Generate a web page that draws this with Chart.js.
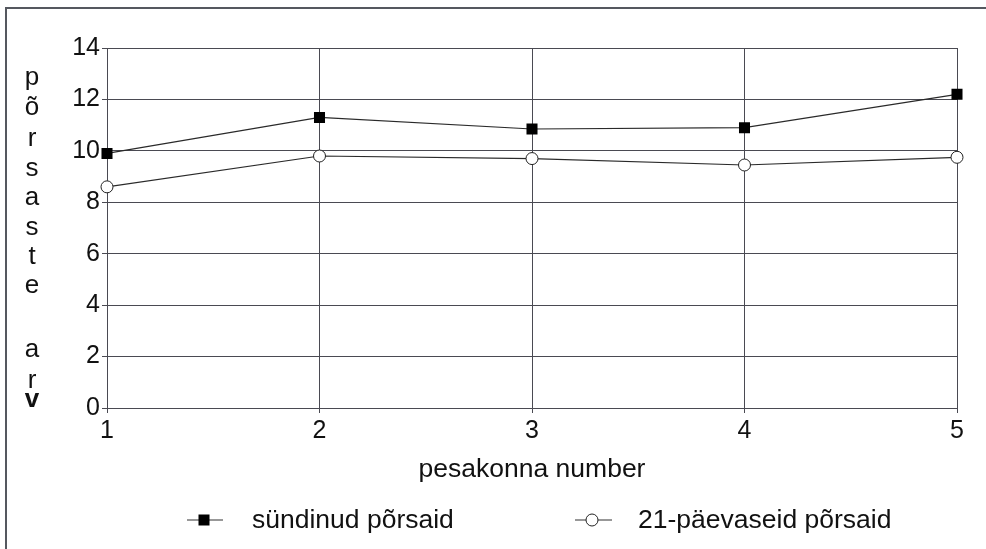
<!DOCTYPE html>
<html>
<head>
<meta charset="utf-8">
<script src="https://cdn.jsdelivr.net/npm/chart.js@4"></script>
<style>
  html, body { margin: 0; padding: 0; background: #fff; }
  #wrap { width: 986px; height: 549px; }
</style>
</head>
<body>
<div id="wrap"><canvas id="pigs" width="986" height="549"></canvas></div>
<script>
const litters = ["1", "2", "3", "4", "5"];
const bornPiglets = [9.9, 11.3, 10.85, 10.9, 12.2];
const weanedPiglets = [8.6, 9.8, 9.7, 9.45, 9.75];
const yTicks = [0, 2, 4, 6, 8, 10, 12, 14];
const yTitleLetters = ["p", "õ", "r", "s", "a", "s", "t", "e", "a", "r", "v"];
// baselines of the stacked letters of the y title
const yTitleBase = [85, 115, 146, 176, 205, 235, 264, 293, 357, 388, 407];

const FONT = "'Liberation Sans', Arial, sans-serif";
const gridColor = "#4a4a52";

// frame, vertical y title and the legend with line + marker
const extras = {
    id: "extras",
    beforeDraw(chart) {
        const c = chart.ctx;
        c.save();
        c.strokeStyle = "#55585f";
        c.lineWidth = 2;
        c.beginPath();
        c.moveTo(6, 549);
        c.lineTo(6, 8);
        c.lineTo(986, 8);
        c.stroke();
        c.restore();
    },
    afterDraw(chart) {
        const c = chart.ctx;
        c.save();
        c.fillStyle = "#111";
        c.textAlign = "center";
        c.textBaseline = "alphabetic";
        yTitleLetters.forEach(function (ch, i) {
            c.font = (ch === "v" ? "bold " : "") + "26px " + FONT;
            c.fillText(ch, 32, yTitleBase[i]);
        });

        const items = [
            { x1: 187, x2: 223, mx: 204, tx: 252 },
            { x1: 575, x2: 612, mx: 592, tx: 638 }
        ];
        const ly = 520;
        chart.data.datasets.forEach(function (ds, i) {
            const it = items[i];
            c.strokeStyle = "#333";
            c.lineWidth = 1.2;
            c.beginPath();
            c.moveTo(it.x1, ly);
            c.lineTo(it.x2, ly);
            c.stroke();
            if (ds.pointStyle === "rect") {
                c.fillStyle = "#000";
                c.fillRect(it.mx - 5.5, ly - 5.5, 11, 11);
            } else {
                c.fillStyle = "#fff";
                c.strokeStyle = "#222";
                c.lineWidth = 1;
                c.beginPath();
                c.arc(it.mx, ly, 6, 0, Math.PI * 2);
                c.fill();
                c.stroke();
            }
            c.fillStyle = "#111";
            c.font = "26.5px " + FONT;
            c.textAlign = "left";
            c.textBaseline = "middle";
            c.fillText(ds.label, it.tx, ly + 1);
        });
        c.restore();
    }
};

new Chart(document.getElementById("pigs"), {
    type: "line",
    data: {
        labels: litters,
        datasets: [
            {
                label: "sündinud põrsaid",
                data: bornPiglets,
                borderColor: "#2a2a2a",
                borderWidth: 1.2,
                pointStyle: "rect",
                pointRadius: 7.8,
                pointBackgroundColor: "#000",
                pointBorderColor: "#000",
                pointBorderWidth: 0,
                tension: 0
            },
            {
                label: "21-päevaseid põrsaid",
                data: weanedPiglets,
                borderColor: "#2a2a2a",
                borderWidth: 1.2,
                pointStyle: "circle",
                pointRadius: 6,
                pointBackgroundColor: "#fff",
                pointBorderColor: "#222",
                pointBorderWidth: 1,
                tension: 0
            }
        ]
    },
    options: {
        responsive: false,
        animation: false,
        layout: { padding: { left: 0, top: 48, right: 29, bottom: 61 } },
        plugins: {
            legend: { display: false },
            tooltip: { enabled: false }
        },
        scales: {
            x: {
                offset: false,
                grid: { color: gridColor, lineWidth: 1, tickLength: 5 },
                border: { color: gridColor, width: 1 },
                ticks: {
                    color: "#111",
                    padding: 3,
                    maxRotation: 0,
                    font: { family: FONT, size: 25 }
                },
                title: {
                    display: true,
                    text: "pesakonna number",
                    color: "#111",
                    padding: { top: 0, bottom: 2 },
                    font: { family: FONT, size: 26.5 }
                },
                afterFit(scale) { scale.height = 80; }
            },
            y: {
                min: 0,
                max: 14,
                afterBuildTicks(scale) {
                    scale.ticks = yTicks.map(function (v) { return { value: v }; });
                },
                grid: { color: gridColor, lineWidth: 1, tickLength: 5 },
                border: { color: gridColor, width: 1 },
                ticks: {
                    color: "#111",
                    padding: 2,
                    font: { family: FONT, size: 25 }
                },
                afterFit(scale) { scale.width = 107; }
            }
        }
    },
    plugins: [extras]
});
</script>
</body>
</html>
